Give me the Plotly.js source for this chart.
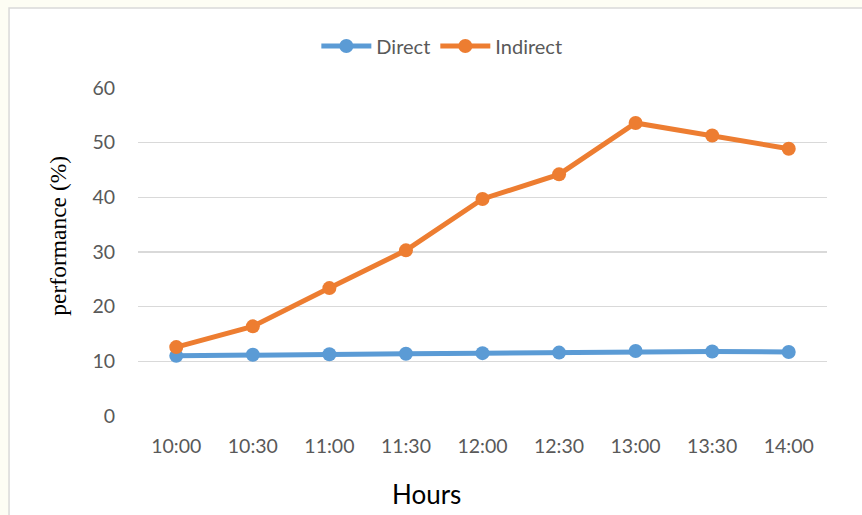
<!DOCTYPE html>
<html>
<head>
<meta charset="utf-8">
<script src="https://cdn.plot.ly/plotly-3.0.1.min.js"></script>
<style>html,body{margin:0;padding:0;background:#fdfdf4;}#chart{width:862px;height:515px;}</style>
</head>
<body>
<div id="chart"></div>
<script>
const hours = ["10:00","10:30","11:00","11:30","12:00","12:30","13:00","13:30","14:00"];
const direct = [11.0, 11.2, 11.3, 11.4, 11.5, 11.6, 11.9, 11.8, 11.7];
const indirect = [12.6, 16.4, 23.4, 30.3, 39.7, 44.2, 53.6, 51.3, 48.9];
const yTicks = [0, 10, 20, 30, 40, 50, 60];

const traces = [
  {x: hours, y: direct, name: "Direct", type: "scatter", mode: "lines+markers",
   line: {color: "#5B9BD5", width: 5}, marker: {color: "#5B9BD5", size: 14}},
  {x: hours, y: indirect, name: "Indirect", type: "scatter", mode: "lines+markers",
   line: {color: "#ED7D31", width: 5}, marker: {color: "#ED7D31", size: 14}}
];

const layout = {
  width: 862, height: 515,
  margin: {l: 138, r: 35, t: 88, b: 99},
  paper_bgcolor: "#fdfdf4",
  plot_bgcolor: "rgba(0,0,0,0)",
  font: {family: "Lato, 'Open Sans', sans-serif", color: "#595959", size: 19},
  showlegend: true,
  legend: {orientation: "h", x: 0.441, xanchor: "center", y: 1.128, yanchor: "middle",
           font: {size: 20, color: "#595959"}, itemwidth: 50, bgcolor: "rgba(0,0,0,0)"},
  xaxis: {
    type: "category", range: [-0.5, 8.5], showgrid: false, zeroline: false, showline: false,
    ticks: "outside", ticklen: 13, tickcolor: "rgba(0,0,0,0)",
    tickfont: {size: 19.5, color: "#595959"}
  },
  yaxis: {
    range: [0, 60], tickvals: yTicks, ticktext: yTicks.map(String),
    showgrid: true, gridcolor: "#d9d9d9", gridwidth: 1.5, zeroline: false, showline: false,
    ticks: "outside", ticklen: 18, tickcolor: "rgba(0,0,0,0)",
    tickfont: {size: 19.5, color: "#595959"}
  },
  annotations: [
    {text: "Hours", xref: "paper", yref: "paper", x: 0.419, y: -0.238,
     xanchor: "center", yanchor: "middle", showarrow: false,
     font: {size: 26, color: "#000000"}},
    {text: "performance (%)", xref: "paper", yref: "paper", x: -0.116, y: 0.55,
     xanchor: "center", yanchor: "middle", showarrow: false, textangle: -90,
     font: {family: "'Liberation Serif', 'Times New Roman', serif", size: 23.5, color: "#000000"}}
  ],
  shapes: [
    {type: "rect", xref: "paper", yref: "paper", layer: "below",
     x0: -0.1872, x1: 1.07, y0: -0.33, y1: 1.2439,
     fillcolor: "#ffffff", line: {color: "#d9d9d9", width: 1.5}}
  ]
};

Plotly.newPlot("chart", traces, layout, {displayModeBar: false, staticPlot: true});
</script>
</body>
</html>
